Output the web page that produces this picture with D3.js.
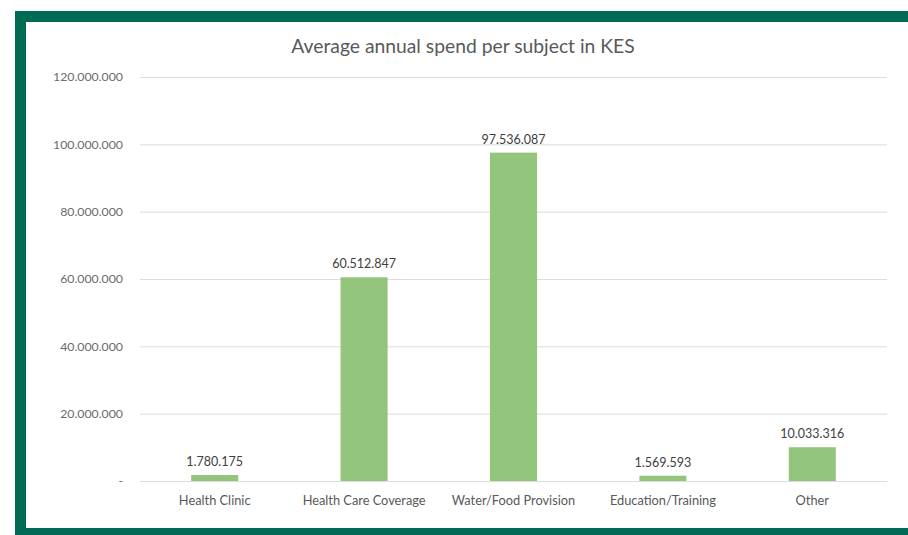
<!DOCTYPE html>
<html>
<head>
<meta charset="utf-8">
<script src="https://cdn.jsdelivr.net/npm/d3@7"></script>
<style>
  body { margin: 0; background: #fff; }
  svg { display: block; }
</style>
</head>
<body>
<svg width="908" height="535"></svg>
<script>
var categories = ["Health Clinic", "Health Care Coverage", "Water/Food Provision", "Education/Training", "Other"];
var values = [1780175, 60512847, 97536087, 1569593, 10033316];
var yTicks = [0, 20000000, 40000000, 60000000, 80000000, 100000000, 120000000];
var title = "Average annual spend per subject in KES";

var svg = d3.select("svg"),
    width = 908,
    height = 535;

var frameColor = "#006b54",
    barColor = "#93c67c",
    gridColor = "#dcdcdc";

// green frame: top, left, bottom
svg.append("rect").attr("x", 15).attr("y", 11).attr("width", width - 15).attr("height", 11).attr("fill", frameColor);
svg.append("rect").attr("x", 15).attr("y", 11).attr("width", 11).attr("height", height - 11).attr("fill", frameColor);
svg.append("rect").attr("x", 15).attr("y", 528).attr("width", width - 15).attr("height", 7).attr("fill", frameColor);

var plot = {left: 140, right: 887, top: 77, bottom: 481};

var nf = d3.formatLocale({decimal: ",", thousands: ".", grouping: [3], currency: ["", ""]}).format(",d");

var x = d3.scaleBand()
        .domain(categories)
        .range([plot.left, plot.right])
        .paddingInner(0.685)
        .paddingOuter(0.3425);

var y = d3.scaleLinear()
        .domain([0, 120000000])
        .range([plot.bottom, plot.top]);

// title
svg.append("text")
        .attr("x", 463)
        .attr("y", 53)
        .attr("text-anchor", "middle")
        .attr("font-family", "Lato, 'Open Sans', sans-serif")
        .attr("font-size", 19.3)
        .attr("fill", "#595959")
        .text(title);

// gridlines + y labels
var yAxis = d3.axisLeft(y)
        .tickValues(yTicks)
        .tickSize(-(plot.right - plot.left))
        .tickPadding(17)
        .tickFormat(function (d) { return d === 0 ? "-" : nf(d); });

var gy = svg.append("g")
        .attr("transform", "translate(" + plot.left + ",0)")
        .call(yAxis);
gy.select(".domain").remove();
gy.selectAll(".tick line").attr("stroke", gridColor);
gy.selectAll(".tick text")
        .attr("font-family", "Lato, 'Open Sans', sans-serif")
        .attr("font-size", 12.3)
        .attr("fill", "#6b6b6b");

// bars
svg.selectAll("rect.bar")
        .data(values)
        .enter().append("rect")
        .attr("class", "bar")
        .attr("x", function (d, i) { return x(categories[i]); })
        .attr("width", x.bandwidth())
        .attr("y", function (d) { return y(d); })
        .attr("height", function (d) { return y(0) - y(d); })
        .attr("fill", barColor);

// data labels
svg.selectAll("text.val")
        .data(values)
        .enter().append("text")
        .attr("class", "val")
        .attr("x", function (d, i) { return x(categories[i]) + x.bandwidth() / 2; })
        .attr("y", function (d) { return y(d) - 9; })
        .attr("text-anchor", "middle")
        .attr("font-family", "Lato, 'Open Sans', sans-serif")
        .attr("font-size", 12.5)
        .attr("fill", "#404040")
        .text(function (d) { return nf(d); });

// x axis labels
var gx = svg.append("g")
        .attr("transform", "translate(0," + plot.bottom + ")")
        .call(d3.axisBottom(x).tickSize(0).tickPadding(15));
gx.select(".domain").attr("stroke", gridColor);
gx.selectAll(".tick text")
        .attr("font-family", "Lato, 'Open Sans', sans-serif")
        .attr("font-size", 12.8)
        .attr("fill", "#595959");
</script>
</body>
</html>
